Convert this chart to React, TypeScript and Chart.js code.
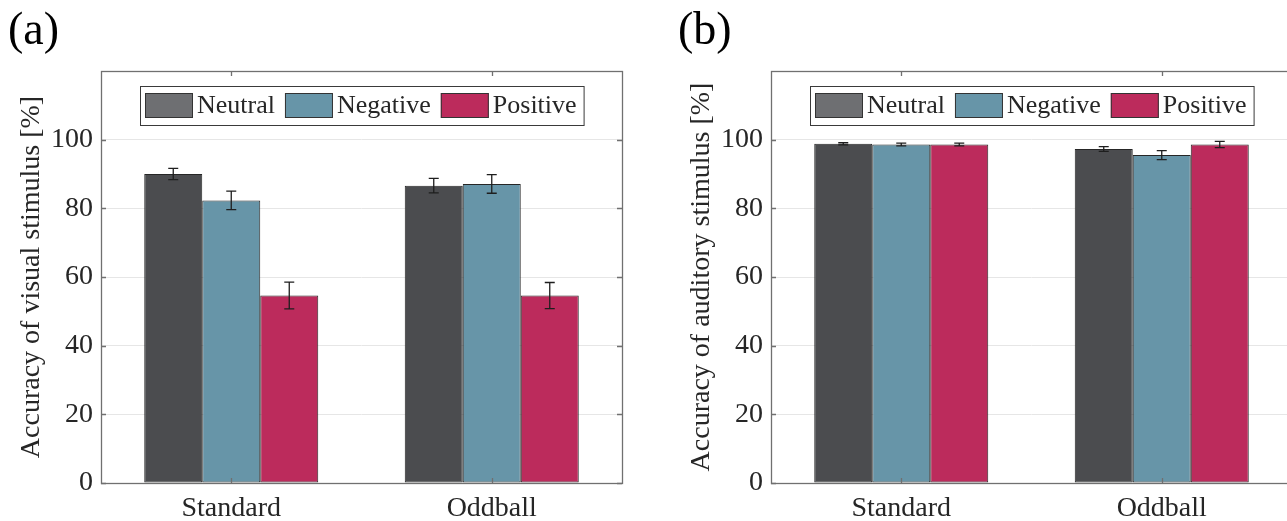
import React, { useEffect, useRef } from 'react';
import { Chart, registerables } from 'chart.js';

Chart.register(...registerables);

// ---------- data ----------
const categories = ['Standard', 'Oddball'];
const seriesNames = ['Neutral', 'Negative', 'Positive'];

const visualNeutral = [90.0, 86.6];
const visualNegative = [82.3, 87.1];
const visualPositive = [54.6, 54.6];
const visualNeutralErr = [1.65, 2.1];
const visualNegativeErr = [2.7, 2.7];
const visualPositiveErr = [3.9, 3.8];

const auditoryNeutral = [98.8, 97.3];
const auditoryNegative = [98.6, 95.5];
const auditoryPositive = [98.6, 98.6];
const auditoryNeutralErr = [0.3, 0.7];
const auditoryNegativeErr = [0.4, 1.3];
const auditoryPositiveErr = [0.4, 0.9];

const yTickValues = [0, 20, 40, 60, 80, 100];
const yMin = 0;
const yMax = 120;

// ---------- styles ----------
const FONT = '"Liberation Serif", "Times New Roman", serif';
const TEXT = '#262626';
const barColors = ['#4b4c4f', '#6795a8', '#bc2b5c'];
const legendColors = ['#6e6f72', '#6795a8', '#bc2b5c'];
const AXIS = '#707070';

const CANVAS_W = 660;
const CANVAS_H = 521;

type PanelProps = {
  label: string;
  yTitle: string;
  values: number[][];
  errors: number[][];
  left: number;
};

function makePlugin(label: string) {
  return {
    id: 'matlabStyle' + label,
    afterDatasetsDraw(chart: any) {
      const ctx: CanvasRenderingContext2D = chart.ctx;
      const ca = chart.chartArea;
      const xs = chart.scales.x;
      const ys = chart.scales.y;

      // error bars
      ctx.save();
      ctx.strokeStyle = '#1e1e1e';
      ctx.lineWidth = 1.3;
      chart.data.datasets.forEach((ds: any, di: number) => {
        const meta = chart.getDatasetMeta(di);
        meta.data.forEach((bar: any, i: number) => {
          const v = ds.data[i];
          const e = ds.errors[i];
          const x = bar.x;
          const y1 = ys.getPixelForValue(v + e);
          const y2 = ys.getPixelForValue(v - e);
          ctx.beginPath();
          ctx.moveTo(x, y1);
          ctx.lineTo(x, y2);
          ctx.moveTo(x - 5, y1);
          ctx.lineTo(x + 5, y1);
          ctx.moveTo(x - 5, y2);
          ctx.lineTo(x + 5, y2);
          ctx.stroke();
        });
      });
      ctx.restore();

      // axes box
      ctx.save();
      ctx.strokeStyle = AXIS;
      ctx.lineWidth = 1.3;
      ctx.strokeRect(ca.left + 0.5, ca.top + 0.5, ca.right - ca.left, ca.bottom - ca.top);
      // inner tick marks
      ctx.beginPath();
      yTickValues.forEach((v) => {
        const py = Math.round(ys.getPixelForValue(v)) + 0.5;
        ctx.moveTo(ca.left, py);
        ctx.lineTo(ca.left + 5, py);
        ctx.moveTo(ca.right, py);
        ctx.lineTo(ca.right - 5, py);
      });
      categories.forEach((_, i) => {
        const px = Math.round(xs.getPixelForValue(i)) + 0.5;
        ctx.moveTo(px, ca.bottom);
        ctx.lineTo(px, ca.bottom - 5);
        ctx.moveTo(px, ca.top);
        ctx.lineTo(px, ca.top + 5);
      });
      ctx.stroke();
      ctx.restore();

      // legend
      ctx.save();
      const fs = 26;
      ctx.font = `${fs}px ${FONT}`;
      const sw = 48, sh = 25, gapText = 4, gapItem = 10, padL = 5, padR = 7, boxH = 39;
      const labels: string[] = chart.data.datasets.map((d: any) => d.label);
      const widths = labels.map((l) => ctx.measureText(l).width);
      let total = padL + padR + gapItem * (labels.length - 1);
      widths.forEach((w) => (total += sw + gapText + w));
      const bx = Math.round((ca.left + ca.right) / 2 - total / 2);
      const by = Math.round(ca.top + 15);
      ctx.fillStyle = '#ffffff';
      ctx.fillRect(bx, by, total, boxH);
      ctx.strokeStyle = '#3a3a3a';
      ctx.lineWidth = 1;
      ctx.strokeRect(bx + 0.5, by + 0.5, total, boxH);
      let cx = bx + padL;
      const cy = by + (boxH - sh) / 2;
      labels.forEach((l, i) => {
        ctx.fillStyle = legendColors[i];
        ctx.fillRect(cx, cy, sw, sh);
        ctx.strokeStyle = '#333333';
        ctx.strokeRect(cx + 0.5, cy + 0.5, sw - 1, sh - 1);
        ctx.fillStyle = TEXT;
        ctx.textBaseline = 'middle';
        ctx.textAlign = 'left';
        ctx.fillText(l, cx + sw + gapText, cy + sh / 2 + 1);
        cx += sw + gapText + widths[i] + gapItem;
      });
      ctx.restore();

      // panel label
      ctx.save();
      ctx.font = `46px ${FONT}`;
      ctx.fillStyle = '#000000';
      ctx.textBaseline = 'alphabetic';
      ctx.textAlign = 'left';
      ctx.fillText(label, 8, 44);
      ctx.restore();
    },
  };
}

function Panel({ label, yTitle, values, errors, left }: PanelProps) {
  const ref = useRef<HTMLCanvasElement | null>(null);
  useEffect(() => {
    if (!ref.current) return;
    const chart = new Chart(ref.current, {
      type: 'bar',
      data: {
        labels: categories,
        datasets: seriesNames.map((name, i) => ({
          label: name,
          data: values[i],
          errors: errors[i],
          backgroundColor: barColors[i],
          borderColor: '#262626',
          borderWidth: 1,
          borderSkipped: false,
          categoryPercentage: 0.668,
          barPercentage: 1,
        })) as any,
      },
      options: {
        animation: false,
        responsive: false,
        devicePixelRatio: 1,
        layout: { padding: { top: 71, right: CANVAS_W - 622, left: 0, bottom: 0 } },
        plugins: { legend: { display: false }, tooltip: { enabled: false } },
        scales: {
          x: {
            offset: true,
            grid: { display: false, drawTicks: false },
            border: { display: false },
            ticks: { color: TEXT, font: { family: FONT, size: 28 }, padding: 9 },
            afterFit: (s: any) => {
              s.height = 38;
            },
          },
          y: {
            min: yMin,
            max: yMax,
            grid: { color: '#e6e6e6', lineWidth: 1, drawTicks: false },
            border: { display: false },
            ticks: {
              stepSize: 20,
              color: TEXT,
              font: { family: FONT, size: 28 },
              padding: 8,
              callback: (v: any) => (yTickValues.includes(Number(v)) ? String(v) : ''),
            },
            title: {
              display: true,
              text: yTitle,
              color: TEXT,
              font: { family: FONT, size: 28 },
              padding: { top: 15, bottom: 0 },
            },
            afterFit: (s: any) => {
              s.width = 101;
            },
          },
        },
      },
      plugins: [makePlugin(label)],
    } as any);
    return () => chart.destroy();
  }, []);
  return (
    <canvas
      ref={ref}
      width={CANVAS_W}
      height={CANVAS_H}
      style={{ position: 'absolute', left, top: 0, width: CANVAS_W, height: CANVAS_H }}
    />
  );
}

export default function App() {
  return (
    <div
      style={{
        position: 'fixed',
        left: 0,
        top: 0,
        width: 1287,
        height: 521,
        overflow: 'hidden',
        background: '#ffffff',
      }}
    >
      <Panel
        label="(a)"
        yTitle="Accuracy of visual stimulus [%]"
        values={[visualNeutral, visualNegative, visualPositive]}
        errors={[visualNeutralErr, visualNegativeErr, visualPositiveErr]}
        left={0}
      />
      <Panel
        label="(b)"
        yTitle="Accuracy of auditory stimulus [%]"
        values={[auditoryNeutral, auditoryNegative, auditoryPositive]}
        errors={[auditoryNeutralErr, auditoryNegativeErr, auditoryPositiveErr]}
        left={670}
      />
    </div>
  );
}
